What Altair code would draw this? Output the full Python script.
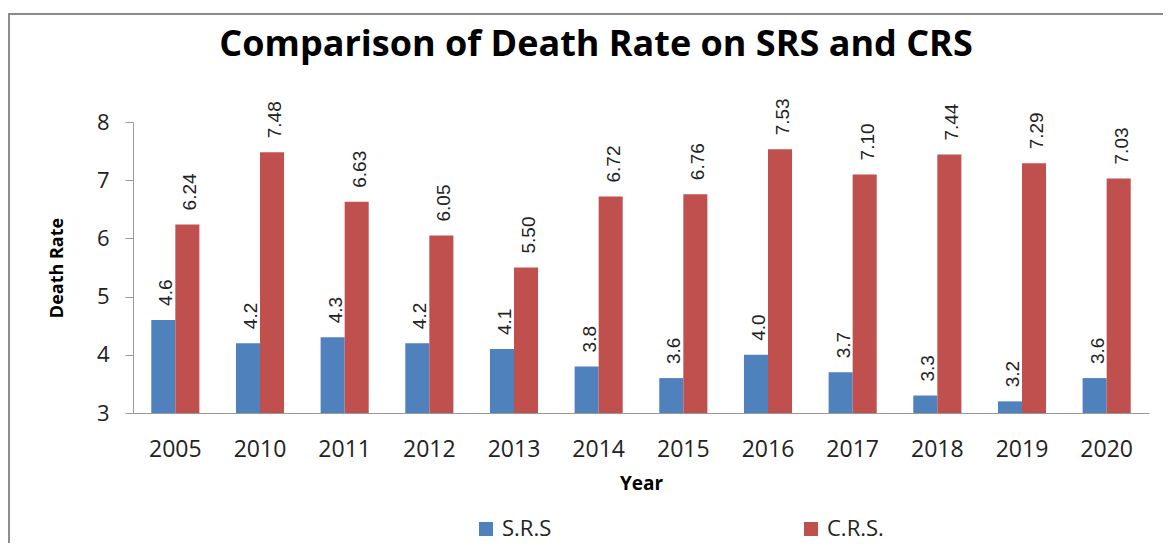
import altair as alt
import pandas as pd

years = ["2005", "2010", "2011", "2012", "2013", "2014", "2015", "2016", "2017", "2018", "2019", "2020"]
srs = [4.6, 4.2, 4.3, 4.2, 4.1, 3.8, 3.6, 4.0, 3.7, 3.3, 3.2, 3.6]
crs = [6.24, 7.48, 6.63, 6.05, 5.50, 6.72, 6.76, 7.53, 7.10, 7.44, 7.29, 7.03]
series = ["S.R.S", "C.R.S."]
colors = ["#4F81BD", "#C0504D"]
y_ticks = [3, 4, 5, 6, 7, 8]
y_min = 3

rows = []
for y, a, b in zip(years, srs, crs):
    rows.append({"Year": y, "Series": series[0], "Value": a, "Label": f"{a:.1f}"})
    rows.append({"Year": y, "Series": series[1], "Value": b, "Label": f"{b:.2f}"})
df = pd.DataFrame(rows)

W, H = 1016, 291
FONT = "Open Sans"

x_enc = alt.X("Year:N", sort=years,
              scale=alt.Scale(paddingInner=0.432, paddingOuter=0.216),
              axis=alt.Axis(title="Year", labelAngle=0, ticks=False, labelPadding=25,
                            labelFontSize=23, labelFont=FONT, labelColor="#222",
                            titleFont=FONT, titleFontSize=19, titleFontWeight="bold",
                            titlePadding=13, titleColor="#000",
                            domainColor="#999", domainWidth=1))
xoff = alt.XOffset("Series:N", sort=series, scale=alt.Scale(paddingInner=0, paddingOuter=0))
y_enc = alt.Y("Value:Q",
              scale=alt.Scale(domain=[3, 8], nice=False, zero=False),
              axis=alt.Axis(title="Death Rate", values=y_ticks, format="d", grid=False, tickSize=8,
                            tickColor="#999", domainColor="#999", labelPadding=16,
                            labelFontSize=22, labelFont=FONT, labelColor="#222",
                            titleFont=FONT, titleFontSize=18, titleFontWeight="bold",
                            titlePadding=30, titleColor="#000"))
color_enc = alt.Color("Series:N", sort=series,
                      scale=alt.Scale(domain=series, range=colors),
                      legend=alt.Legend(title=None, orient="none", legendX=342, legendY=396,
                                        direction="horizontal", symbolType="square",
                                        symbolSize=196, symbolStrokeWidth=0,
                                        labelFontSize=22, labelFont=FONT, labelColor="#222",
                                        labelOffset=5, columnPadding=248, padding=0))

bars = alt.Chart(df).mark_bar().encode(x=x_enc, xOffset=xoff, y=y_enc,
                                       y2=alt.datum(y_min), color=color_enc)

labels = alt.Chart(df).mark_text(angle=270, align="left", baseline="middle", dx=14, dy=3,
                                 font="Liberation Sans", fontSize=19, color="#222").encode(
    x=alt.X("Year:N", sort=years), xOffset=alt.XOffset("Series:N", sort=series),
    y="Value:Q", text="Label:N")

border_left = alt.Chart(df).mark_rule(color="#8c8c8c", strokeWidth=2).encode(
    x=alt.value(-124), y=alt.value(-109), y2=alt.value(H + 200))
border_top = alt.Chart(df).mark_rule(color="#8c8c8c", strokeWidth=2).encode(
    x=alt.value(-125), x2=alt.value(W + 200), y=alt.value(-108))

chart = alt.layer(border_left, border_top, bars, labels).properties(
    width=W, height=H,
    autosize=alt.AutoSizeParams(type="none"),
    padding={"left": 125, "top": 114, "right": 14, "bottom": 130},
    title=alt.TitleParams("Comparison of Death Rate on SRS and CRS", anchor="middle",
                          font=FONT, fontSize=36, fontWeight="bold", color="#000",
                          offset=0, dy=52, dx=-45),
).configure_view(stroke=None)

chart.save("out.html", embed_options={"renderer": "svg", "actions": False})
